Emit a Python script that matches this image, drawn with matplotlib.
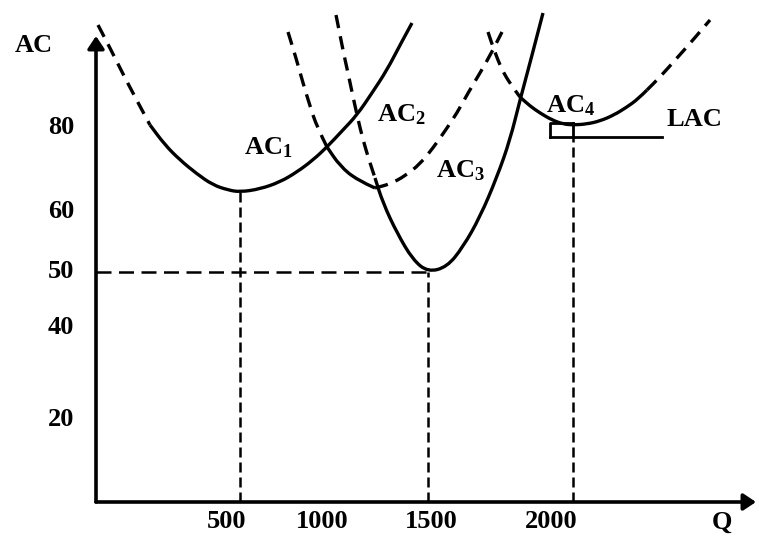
import numpy as np
import matplotlib.pyplot as plt
from matplotlib.path import Path
from matplotlib.patches import PathPatch

# schematic long-run average cost diagram; positions in diagram units
# (origin at the corner of the axes)

ytick_labels = ['80', '60', '50', '40', '20']
ytick_pos = [375, 290, 230, 174, 82]
xtick_labels = ['500', '1000', '1500', '2000']
xtick_pos = [131, 226, 335, 455]

# short-run AC curves (u, v), plus the index range drawn solid
ac1_u = [2, 14, 26, 39, 54, 69, 84, 101, 117, 132, 144, 164, 184, 201, 217, 231, 246, 261, 276, 291, 304, 316]
ac1_v = [477, 454, 430, 405, 377, 357, 342, 328, 317, 312, 310, 313, 320, 330, 342, 355, 371, 387, 409, 432, 457, 479]
ac1_solid = (4, 21)

ac2_u = [192, 200, 207, 214, 221, 231, 244, 261, 279, 294, 309, 324, 337, 349, 361, 372, 384, 396, 406]
ac2_v = [470, 444, 419, 396, 375, 355, 336, 322, 314, 318, 326, 338, 354, 371, 389, 409, 429, 450, 470]
ac2_solid = (5, 8)

ac3_u = [240, 244, 248, 252, 256, 261, 267, 274, 279, 287, 301, 317, 332, 351, 367, 384, 401, 414, 424, 434, 447]
ac3_v = [487, 467, 447, 429, 410, 387, 362, 339, 324, 299, 269, 242, 230, 235, 255, 285, 325, 362, 402, 439, 489]
ac3_solid = (8, 20)

ac4_u = [392, 398, 406, 415, 424, 434, 444, 456, 467, 477, 491, 504, 518, 531, 542, 551, 564, 581, 597, 614]
ac4_v = [470, 452, 432, 417, 405, 396, 389, 382, 378, 377, 378, 381, 387, 395, 403, 412, 425, 444, 462, 482]
ac4_solid = (4, 15)

curves = [(ac1_u, ac1_v, ac1_solid), (ac2_u, ac2_v, ac2_solid),
          (ac3_u, ac3_v, ac3_solid), (ac4_u, ac4_v, ac4_solid)]

curve_labels = [r'AC$_1$', r'AC$_2$', r'AC$_3$', r'AC$_4$', 'LAC']
label_pos = [(172, 354), (305, 387), (364, 331), (475, 396), (598, 382)]

# minimum points that get drop lines
min_u = [144, 332, 477]
min_v = [310, 230, 365]

lac_line_u = [454, 566]
lac_line_v = 365

plt.rcParams['font.family'] = 'Liberation Serif'
plt.rcParams['font.weight'] = 'bold'
plt.rcParams['mathtext.fontset'] = 'custom'
plt.rcParams['mathtext.rm'] = 'Liberation Serif:bold'
plt.rcParams['mathtext.it'] = 'Liberation Serif:bold'
plt.rcParams['mathtext.bf'] = 'Liberation Serif:bold'


def smooth_path(u, v):
    # quadratic B-spline style path through the read points
    pts = np.column_stack([u, v]).astype(float)
    if len(pts) < 3:
        return Path(pts)
    verts = [pts[0]]
    codes = [Path.MOVETO]
    verts.append((pts[0] + pts[1]) / 2)
    codes.append(Path.LINETO)
    for i in range(1, len(pts) - 1):
        verts.append(pts[i])
        verts.append((pts[i] + pts[i + 1]) / 2 if i < len(pts) - 2 else pts[i + 1])
        codes += [Path.CURVE3, Path.CURVE3]
    return Path(verts, codes)


fig = plt.figure(figsize=(7.59, 5.36), dpi=100)
ax = fig.add_axes([0, 0, 1, 1])
ax.set_xlim(-96, 663)
ax.set_ylim(-34, 502)
ax.axis('off')

# axes with arrows
arrow = dict(arrowstyle='-|>,head_length=0.75,head_width=0.5', lw=2.6,
             color='black', shrinkA=0, shrinkB=0)
ax.annotate('', xy=(0, 466), xytext=(0, 0), arrowprops=arrow)
ax.annotate('', xy=(660, 0), xytext=(0, 0), arrowprops=arrow)

# drop lines
for u, v in zip(min_u, min_v):
    ax.plot([u, u], [0, v], color='black', lw=1.8, ls=(0, (4, 2)))
ax.plot([0, min_u[1]], [min_v[1], min_v[1]], color='black', lw=1.8, ls=(0, (6, 3)))

# curves
for cu, cv, (i0, i1) in curves:
    cu = np.array(cu)
    cv = np.array(cv)
    parts = [(cu[i0:i1 + 1], cv[i0:i1 + 1], '-')]
    if i0 > 0:
        parts.append((cu[:i0 + 1], cv[:i0 + 1], (0, (4, 2.5))))
    if i1 < len(cu) - 1:
        parts.append((cu[i1:], cv[i1:], (0, (4, 2.5))))
    for pu, pv, ls in parts:
        ax.add_patch(PathPatch(smooth_path(pu, pv), fill=False, ec='black',
                               lw=2.4, ls=ls, capstyle='butt'))

# LAC marker line and right-angle box
ax.plot(lac_line_u, [lac_line_v, lac_line_v], color='black', lw=2)
ax.plot([lac_line_u[0], lac_line_u[0], min_u[2]],
        [lac_line_v, lac_line_v + 14, lac_line_v + 14], color='black', lw=2)
ax.plot([min_u[2], min_u[2]], [lac_line_v, lac_line_v + 14], color='black', lw=2)

fs = 19
for lab, v in zip(ytick_labels, ytick_pos):
    ax.text(-22, v, lab, ha='right', va='center', fontsize=fs)
for lab, u in zip(xtick_labels, xtick_pos):
    ax.text(u, -20, lab, ha='center', va='center', fontsize=fs)
ax.text(-62, 457, 'AC', ha='center', va='center', fontsize=fs)
ax.text(626, -20, 'Q', ha='center', va='center', fontsize=fs)

for lab, (u, v) in zip(curve_labels, label_pos):
    ax.text(u, v, lab, ha='center', va='center', fontsize=fs)

fig.savefig('out.png', dpi=100)
